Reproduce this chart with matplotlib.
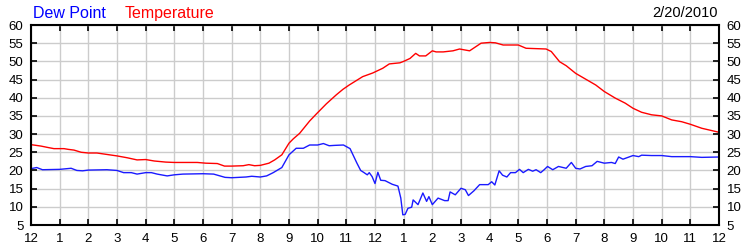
import numpy as np
from matplotlib import pyplot as plt

plt.rcParams['font.family'] = ['Liberation Sans', 'DejaVu Sans']

# temperature readings (hour of day, deg F)
temp_hours = [0.0, 0.35, 0.6, 0.8, 1.15, 1.3, 1.5, 1.75, 2.0, 2.3, 2.65, 3.0, 3.35, 3.7, 4.0,
              4.3, 4.7, 5.0, 5.8, 6.1, 6.5, 6.75, 7.0, 7.4, 7.6, 7.8, 8.0, 8.3, 8.5, 8.75,
              9.0, 9.15, 9.37, 9.72, 9.95, 10.3, 10.65, 10.88, 11.1, 11.57, 11.92, 12.27,
              12.5, 12.87, 13.0, 13.22, 13.42, 13.55, 13.77, 14.0, 14.13, 14.38, 14.72,
              14.95, 15.3, 15.7, 16.0, 16.2, 16.47, 17.0, 17.27, 17.97, 18.15, 18.44,
              18.67, 19.0, 19.35, 19.7, 20.0, 20.38, 20.73, 21.0, 21.3, 21.65, 22.0,
              22.35, 22.7, 23.0, 23.4, 24.0]
temp_vals = [27.1, 26.7, 26.3, 26.0, 26.0, 25.8, 25.6, 25.0, 24.8, 24.8, 24.4, 24.0, 23.5, 22.9, 23.0,
             22.6, 22.3, 22.2, 22.2, 22.0, 21.9, 21.2, 21.2, 21.3, 21.6, 21.3, 21.4, 22.0, 22.9, 24.3,
             27.5, 28.7, 30.2, 33.6, 35.5, 38.3, 40.8, 42.3, 43.5, 45.8, 46.8, 48.1,
             49.3, 49.6, 50.0, 50.8, 52.2, 51.5, 51.5, 52.9, 52.6, 52.6, 52.9,
             53.4, 52.9, 55.0, 55.2, 55.1, 54.5, 54.5, 53.6, 53.4, 52.7, 49.9,
             48.8, 46.7, 45.1, 43.5, 41.7, 39.9, 38.5, 37.1, 36.0, 35.3, 35.0,
             33.9, 33.4, 32.7, 31.6, 30.5]

# dew point readings
dew_hours = [0.0, 0.2, 0.4, 1.0, 1.4, 1.6, 1.8, 2.0, 2.65, 3.0, 3.23, 3.5, 3.7, 4.0, 4.2, 4.4,
             4.75, 5.0, 5.3, 6.0, 6.37, 6.77, 7.0, 7.5, 7.7, 8.0, 8.22, 8.45, 8.75, 9.0, 9.25,
             9.5, 9.72, 10.0, 10.2, 10.4, 10.6, 10.9, 11.13, 11.37, 11.5, 11.6, 11.73, 11.8,
             11.9, 12.0, 12.1, 12.2, 12.35, 12.45, 12.6, 12.8, 12.9, 12.97, 13.05, 13.15,
             13.28, 13.33, 13.5, 13.67, 13.8, 13.88, 14.0, 14.2, 14.43, 14.55, 14.62, 14.8,
             15.0, 15.15, 15.26, 15.45, 15.65, 15.95, 16.07, 16.18, 16.33, 16.45, 16.6,
             16.73, 16.9, 17.04, 17.17, 17.35, 17.5, 17.62, 17.78, 17.9, 18.02, 18.2, 18.4,
             18.67, 18.85, 19.0, 19.15, 19.35, 19.57, 19.75, 20.0, 20.25, 20.38, 20.5,
             20.65, 21.0, 21.2, 21.3, 21.65, 22.0, 22.35, 22.7, 23.0, 23.4, 24.0]
dew_vals = [20.5, 20.8, 20.2, 20.3, 20.6, 20.0, 19.9, 20.1, 20.2, 20.0, 19.4, 19.4, 19.0, 19.4, 19.4, 19.0,
            18.5, 18.8, 19.0, 19.1, 19.0, 18.1, 18.0, 18.2, 18.4, 18.2, 18.5, 19.4, 20.8, 24.3, 26.1,
            26.1, 27.0, 27.0, 27.4, 26.8, 26.9, 27.0, 26.0, 22.0, 20.0, 19.5, 18.8, 19.4,
            18.3, 16.4, 19.5, 17.3, 17.2, 16.8, 16.2, 15.7, 12.4, 7.8, 7.9, 9.6,
            9.9, 11.9, 10.6, 13.8, 11.5, 12.8, 10.6, 12.4, 11.7, 11.7, 14.1, 13.3,
            15.1, 14.7, 13.1, 14.4, 16.1, 16.1, 16.9, 16.0, 19.9, 18.7, 18.2,
            19.4, 19.4, 20.3, 19.4, 20.3, 19.8, 20.2, 19.4, 20.2, 21.1, 20.2, 21.1,
            20.6, 22.2, 20.6, 20.4, 21.1, 21.3, 22.5, 22.0, 22.2, 21.9, 23.7,
            23.1, 24.1, 23.8, 24.2, 24.1, 24.1, 23.8, 23.8, 23.8, 23.6, 23.7]

hour_labels = ['12'] + [str(i) for i in range(1, 12)] + ['12'] + [str(i) for i in range(1, 12)] + ['12']
y_ticks = list(range(5, 61, 5))

fig = plt.figure(figsize=(7.5, 2.5), dpi=100)
ax = fig.add_axes([31/750, 25/250, 688/750, 200/250])

ax.plot(dew_hours, dew_vals, color='#1a1aff', lw=1.0)
ax.plot(temp_hours, temp_vals, color='#ff0000', lw=1.0)

ax.set_xlim(0, 24)
ax.set_ylim(5, 60)
ax.set_xticks(range(25))
ax.set_xticklabels(hour_labels)
ax.set_yticks(y_ticks)
ax.grid(True, color='#cccccc', lw=1.0)
ax.set_axisbelow(True)
for s in ax.spines.values():
    s.set_linewidth(1.5)
    s.set_color('black')
ax.tick_params(direction='in', length=4, width=1.2, top=True, right=True,
               labelright=True, labelsize=9.5, pad=5.5)

fig.text(33/750, 1 - 18/250, 'Dew Point', color='#0000ff', fontsize=11.5, va='baseline')
fig.text(125/750, 1 - 18/250, 'Temperature', color='#ff0000', fontsize=11.5, va='baseline')
fig.text(718/750, 1 - 17/250, '2/20/2010', color='black', fontsize=10.5, va='baseline', ha='right')

plt.savefig('out.png', dpi=100)
